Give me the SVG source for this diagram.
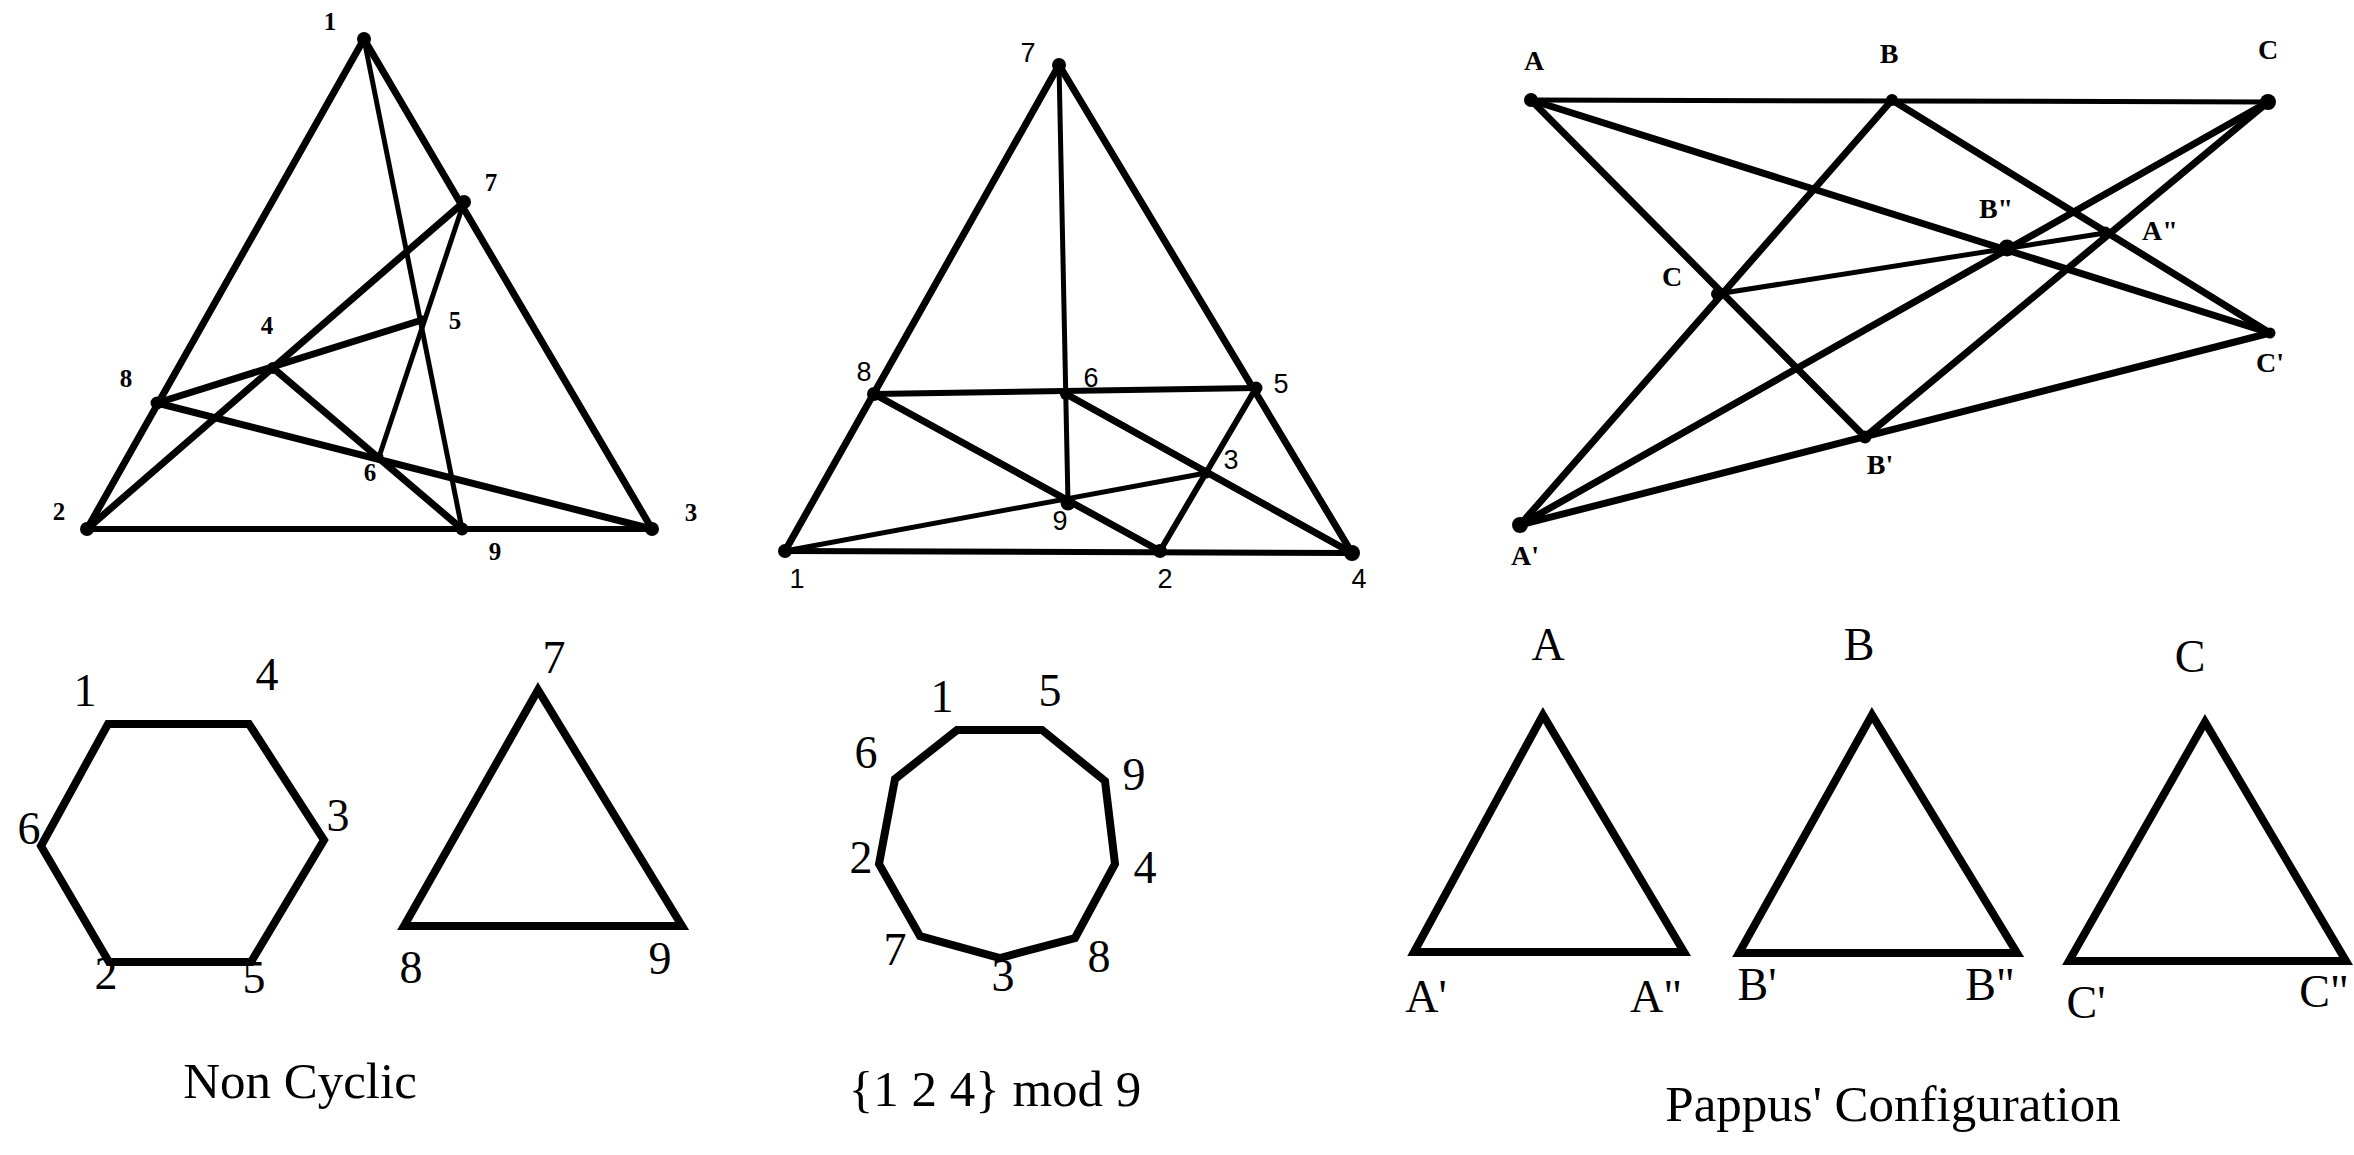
<svg xmlns="http://www.w3.org/2000/svg" width="2354" height="1155" viewBox="0 0 2354 1155">
<style>
  .ln { stroke: #000; stroke-linecap: round; fill: none; }
  .w6 { stroke-width: 7; }
  .w5 { stroke-width: 6; }
  .w4 { stroke-width: 5; }
  .shape { fill: none; stroke: #000; stroke-width: 8; stroke-linejoin: miter; }
  .dot { fill: #000; }
  .l1 { font-family: "Liberation Serif", serif; font-weight: bold; font-size: 25px; text-anchor: middle; fill: #000; }
  .l2 { font-family: "Liberation Sans", sans-serif; font-size: 27px; text-anchor: middle; fill: #000; }
  .l3 { font-family: "Liberation Serif", serif; font-weight: bold; font-size: 28px; text-anchor: middle; fill: #000; }
  .lb { font-family: "Liberation Serif", serif; font-size: 46px; text-anchor: middle; fill: #000; }
  .cap { font-family: "Liberation Serif", serif; font-size: 51px; text-anchor: middle; fill: #000; }
</style>
<rect width="2354" height="1155" fill="#fff"/>

<!-- Panel 1: non-cyclic configuration -->
<g id="p1-connectors">
  <line class="ln w6" x1="364" y1="39" x2="87" y2="529"/>
  <line class="ln w6" x1="364" y1="39" x2="652" y2="529"/>
  <line class="ln w4" x1="364" y1="39" x2="462" y2="529"/>
  <line class="ln w5" x1="87" y1="529" x2="652" y2="529"/>
  <line class="ln w6" x1="87" y1="529" x2="464" y2="202"/>
  <line class="ln w6" x1="157" y1="403" x2="422" y2="320"/>
  <line class="ln w6" x1="157" y1="403" x2="652" y2="529"/>
  <line class="ln w6" x1="273" y1="368" x2="462" y2="529"/>
  <line class="ln w4" x1="464" y1="202" x2="379" y2="457"/>
</g>
<g id="p1-n1"><circle class="dot" cx="364" cy="39" r="7"/><text class="l1" x="330" y="30">1</text></g>
<g id="p1-n7"><circle class="dot" cx="464" cy="202" r="7"/><text class="l1" x="491" y="191">7</text></g>
<g id="p1-n5"><circle class="dot" cx="422" cy="320" r="4.5"/><text class="l1" x="455" y="329">5</text></g>
<g id="p1-n4"><circle class="dot" cx="273" cy="368" r="6"/><text class="l1" x="267" y="334">4</text></g>
<g id="p1-n8"><circle class="dot" cx="157" cy="403" r="6.5"/><text class="l1" x="126" y="387">8</text></g>
<g id="p1-n6"><circle class="dot" cx="379" cy="457" r="4.5"/><text class="l1" x="370" y="481">6</text></g>
<g id="p1-n2"><circle class="dot" cx="87" cy="529" r="7"/><text class="l1" x="59" y="520">2</text></g>
<g id="p1-n9"><circle class="dot" cx="462" cy="529" r="6.5"/><text class="l1" x="495" y="560">9</text></g>
<g id="p1-n3"><circle class="dot" cx="652" cy="529" r="7"/><text class="l1" x="691" y="521">3</text></g>

<!-- Panel 2: {1 2 4} mod 9 -->
<g id="p2-connectors">
  <line class="ln w6" x1="1059" y1="65" x2="785" y2="551"/>
  <line class="ln w6" x1="1059" y1="65" x2="1352" y2="553"/>
  <line class="ln w4" x1="1059" y1="65" x2="1068" y2="503"/>
  <line class="ln w5" x1="874" y1="394" x2="1256" y2="388"/>
  <line class="ln w6" x1="874" y1="394" x2="1160" y2="551"/>
  <line class="ln w6" x1="1066" y1="394" x2="1352" y2="553"/>
  <line class="ln w4" x1="785" y1="551" x2="1206" y2="473"/>
  <line class="ln w5" x1="1256" y1="388" x2="1160" y2="551"/>
  <line class="ln w5" x1="785" y1="551" x2="1352" y2="553"/>
</g>
<g id="p2-n7"><circle class="dot" cx="1059" cy="65" r="7"/><text class="l2" x="1028" y="62">7</text></g>
<g id="p2-n8"><circle class="dot" cx="874" cy="394" r="7"/><text class="l2" x="864" y="381">8</text></g>
<g id="p2-n6"><circle class="dot" cx="1066" cy="394" r="6"/><text class="l2" x="1091" y="387">6</text></g>
<g id="p2-n5"><circle class="dot" cx="1256" cy="388" r="6.5"/><text class="l2" x="1281" y="393">5</text></g>
<g id="p2-n3"><circle class="dot" cx="1206" cy="473" r="5.5"/><text class="l2" x="1231" y="469">3</text></g>
<g id="p2-n9"><circle class="dot" cx="1068" cy="503" r="7.5"/><text class="l2" x="1060" y="530">9</text></g>
<g id="p2-n1"><circle class="dot" cx="785" cy="551" r="7"/><text class="l2" x="797" y="588">1</text></g>
<g id="p2-n2"><circle class="dot" cx="1160" cy="551" r="7"/><text class="l2" x="1165" y="588">2</text></g>
<g id="p2-n4"><circle class="dot" cx="1352" cy="553" r="8"/><text class="l2" x="1359" y="588">4</text></g>

<!-- Panel 3: Pappus' configuration -->
<g id="p3-connectors">
  <line class="ln w4" x1="1531" y1="100" x2="2268" y2="102"/>
  <line class="ln w6" x1="1520" y1="525" x2="2270" y2="333"/>
  <line class="ln w6" x1="1531" y1="100" x2="2270" y2="333"/>
  <line class="ln w6" x1="1531" y1="100" x2="1865" y2="437"/>
  <line class="ln w6" x1="1892" y1="100" x2="1520" y2="525"/>
  <line class="ln w6" x1="1892" y1="100" x2="2270" y2="333"/>
  <line class="ln w6" x1="2268" y1="102" x2="1520" y2="525"/>
  <line class="ln w6" x1="2268" y1="102" x2="1865" y2="437"/>
  <line class="ln w4" x1="1717" y1="294" x2="2105" y2="233"/>
</g>
<g id="p3-A"><circle class="dot" cx="1531" cy="100" r="7"/><text class="l3" x="1534" y="70">A</text></g>
<g id="p3-B"><circle class="dot" cx="1892" cy="100" r="6"/><text class="l3" x="1889" y="63">B</text></g>
<g id="p3-C"><circle class="dot" cx="2268" cy="102" r="8"/><text class="l3" x="2268" y="59">C</text></g>
<g id="p3-B2"><circle class="dot" cx="2007" cy="248" r="8.5"/><text class="l3" x="1996" y="218">B"</text></g>
<g id="p3-A2"><circle class="dot" cx="2105" cy="233" r="6.5"/><text class="l3" x="2160" y="240">A"</text></g>
<g id="p3-C2"><circle class="dot" cx="1717" cy="294" r="6"/><text class="l3" x="1672" y="286">C</text></g>
<g id="p3-C1"><circle class="dot" cx="2270" cy="333" r="5.5"/><text class="l3" x="2270" y="372">C'</text></g>
<g id="p3-B1"><circle class="dot" cx="1865" cy="437" r="6.5"/><text class="l3" x="1880" y="474">B'</text></g>
<g id="p3-A1"><circle class="dot" cx="1520" cy="525" r="8"/><text class="l3" x="1525" y="565">A'</text></g>

<!-- Bottom: Non Cyclic -->
<g id="hexagon">
  <polygon class="shape" points="108,724 249,724 324,840 251,962 109,962 41,846"/>
  <text class="lb" x="85" y="706">1</text>
  <text class="lb" x="267" y="690">4</text>
  <text class="lb" x="338" y="831">3</text>
  <text class="lb" x="254" y="993">5</text>
  <text class="lb" x="106" y="989">2</text>
  <text class="lb" x="29" y="844">6</text>
</g>
<g id="triangle-789">
  <polygon class="shape" points="538,690 404,926 682,926"/>
  <text class="lb" x="554" y="673">7</text>
  <text class="lb" x="411" y="983">8</text>
  <text class="lb" x="660" y="974">9</text>
</g>
<text class="cap" x="300" y="1098">Non Cyclic</text>

<!-- Bottom: nonagon -->
<g id="nonagon">
  <polygon class="shape" points="957,730 1042,730 1105,781 1115,864 1075,938 1000,958 920,936 879,864 895,779"/>
  <text class="lb" x="942" y="712">1</text>
  <text class="lb" x="1050" y="706">5</text>
  <text class="lb" x="866" y="768">6</text>
  <text class="lb" x="1134" y="790">9</text>
  <text class="lb" x="861" y="873">2</text>
  <text class="lb" x="1145" y="883">4</text>
  <text class="lb" x="895" y="965">7</text>
  <text class="lb" x="1003" y="991">3</text>
  <text class="lb" x="1099" y="972">8</text>
</g>
<text class="cap" x="995" y="1106">{1 2 4} mod 9</text>

<!-- Bottom: Pappus triangles -->
<g id="triangle-A">
  <polygon class="shape" points="1543,715 1414,952 1684,952"/>
  <text class="lb" x="1548" y="660">A</text>
  <text class="lb" x="1426" y="1012">A'</text>
  <text class="lb" x="1656" y="1012">A"</text>
</g>
<g id="triangle-B">
  <polygon class="shape" points="1872,715 1739,953 2017,953"/>
  <text class="lb" x="1859" y="660">B</text>
  <text class="lb" x="1757" y="1000">B'</text>
  <text class="lb" x="1990" y="1000">B"</text>
</g>
<g id="triangle-C">
  <polygon class="shape" points="2205,722 2069,961 2346,961"/>
  <text class="lb" x="2190" y="672">C</text>
  <text class="lb" x="2086" y="1018">C'</text>
  <text class="lb" x="2324" y="1007">C"</text>
</g>
<text class="cap" x="1893" y="1121">Pappus' Configuration</text>
</svg>
